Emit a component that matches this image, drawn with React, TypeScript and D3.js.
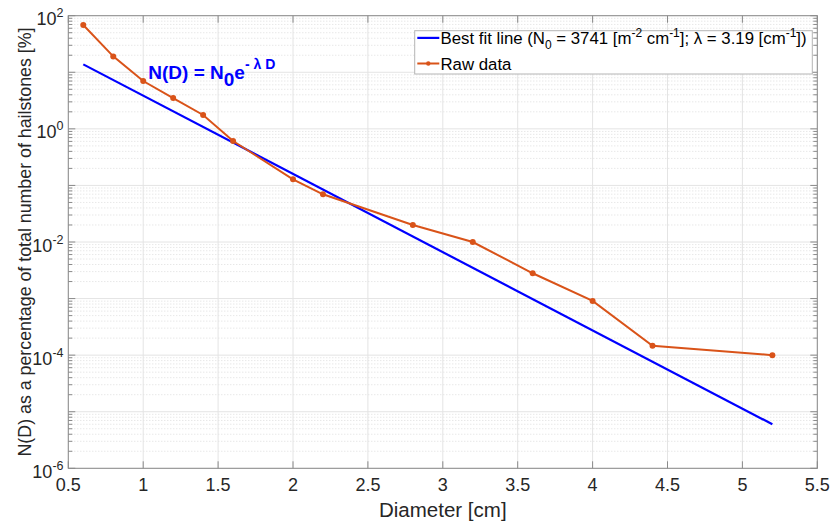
import React from "react";
import * as d3 from "d3";

const diameters = [0.6, 0.8, 1.0, 1.2, 1.4, 1.6, 2.0, 2.2, 2.8, 3.2, 3.6, 4.0, 4.4, 5.2];
const percents = [68.5, 19.1, 7.0, 3.5, 1.76, 0.61, 0.128, 0.0697, 0.02, 0.01, 0.0028, 0.00091, 0.000147, 0.0001];
const fitD = [0.6, 5.2];
const fitN = [13.8, 6.0e-6];
const xTicks = [0.5, 1, 1.5, 2, 2.5, 3, 3.5, 4, 4.5, 5, 5.5];
const yExponents = [2, 0, -2, -4, -6];

const W = 831, H = 525;
const M = { left: 68.3, right: 817.3, top: 15.7, bottom: 468.3 };
const FONT = "'Liberation Sans', Arial, Helvetica, sans-serif";
const BLUE = "#0000ff";
const ORANGE = "#d95319";
const AXIS = "#8a8a8a";
const TXT = "#262626";

export default function App() {
  const x = d3.scaleLinear().domain([0.5, 5.5]).range([M.left, M.right]);
  const y = d3.scaleLog().domain([1e-6, 1e2]).range([M.bottom, M.top]);

  const minorY: number[] = [];
  for (let e = -6; e < 2; e++) {
    for (let k = 2; k <= 9; k++) minorY.push(k * Math.pow(10, e));
  }
  const majorY: number[] = [];
  for (let e = -6; e <= 2; e++) majorY.push(Math.pow(10, e));

  const line = d3
    .line<[number, number]>()
    .x((d) => x(d[0]))
    .y((d) => y(d[1]));
  const raw: [number, number][] = diameters.map((d, i) => [d, percents[i]]);
  const fit: [number, number][] = fitD.map((d, i) => [d, fitN[i]]);

  return (
    <svg
      width={W}
      height={H}
      style={{ position: "absolute", left: 0, top: 0, background: "#fff" }}
      fontFamily={FONT}
    >
      <rect x={0} y={0} width={W} height={H} fill="#fff" />
      {minorY.map((v, i) => (
        <line key={"mg" + i} x1={M.left} x2={M.right} y1={y(v)} y2={y(v)} stroke="#d0d0d0" strokeWidth={0.7} strokeDasharray="1,2" />
      ))}
      {majorY.map((v, i) => (
        <line key={"gy" + i} x1={M.left} x2={M.right} y1={y(v)} y2={y(v)} stroke="#e4e4e4" strokeWidth={1} />
      ))}
      {xTicks.map((v, i) => (
        <line key={"gx" + i} x1={x(v)} x2={x(v)} y1={M.top} y2={M.bottom} stroke="#e4e4e4" strokeWidth={1} />
      ))}

      <path d={line(fit) || ""} fill="none" stroke={BLUE} strokeWidth={2.2} />
      <path d={line(raw) || ""} fill="none" stroke={ORANGE} strokeWidth={2} />
      {raw.map((d, i) => (
        <circle key={"p" + i} cx={x(d[0])} cy={y(d[1])} r={3} fill={ORANGE} />
      ))}

      <rect x={M.left} y={M.top} width={M.right - M.left} height={M.bottom - M.top} fill="none" stroke={AXIS} strokeWidth={1} />
      {xTicks.map((v, i) => (
        <g key={"xt" + i}>
          <line x1={x(v)} x2={x(v)} y1={M.bottom} y2={M.bottom - 7} stroke={AXIS} />
          <line x1={x(v)} x2={x(v)} y1={M.top} y2={M.top + 7} stroke={AXIS} />
          <text x={x(v)} y={490.7} textAnchor="middle" fontSize={18} fill={TXT}>
            {String(v)}
          </text>
        </g>
      ))}
      {majorY.map((v, i) => (
        <g key={"yt" + i}>
          <line x1={M.left} x2={M.left + 7} y1={y(v)} y2={y(v)} stroke={AXIS} />
          <line x1={M.right} x2={M.right - 7} y1={y(v)} y2={y(v)} stroke={AXIS} />
        </g>
      ))}
      {minorY.map((v, i) => (
        <g key={"ymt" + i}>
          <line x1={M.left} x2={M.left + 4} y1={y(v)} y2={y(v)} stroke={AXIS} />
          <line x1={M.right} x2={M.right - 4} y1={y(v)} y2={y(v)} stroke={AXIS} />
        </g>
      ))}
      {yExponents.map((e) => (
        <text key={"yl" + e} x={63.5} y={y(Math.pow(10, e)) + 9.5} textAnchor="end" fontSize={18} fill={TXT}>
          10
          <tspan fontSize={12.5} dy={-8}>
            {String(e)}
          </tspan>
        </text>
      ))}

      <text x={(M.left + M.right) / 2} y={516.7} textAnchor="middle" fontSize={20.5} fill={TXT}>
        Diameter [cm]
      </text>
      <text
        transform={`translate(31,${(M.top + M.bottom) / 2}) rotate(-90)`}
        textAnchor="middle"
        fontSize={17.8}
        fill={TXT}
      >
        N(D) as a percentage of total number of hailstones [%]
      </text>

      <text x={148.3} y={79} fontSize={19} fontWeight="bold" fill={BLUE}>
        N(D) = N
        <tspan dy={7}>0</tspan>
        <tspan dy={-7}>e</tspan>
        <tspan fontSize={14} dy={-10}>- λ D</tspan>
      </text>

      <rect x={414.7} y={30.7} width={812.3 - 414.7} height={74 - 30.7} fill="#fff" stroke="#b5b5b5" strokeWidth={1} />
      <line x1={417.3} x2={439.3} y1={37.9} y2={37.9} stroke={BLUE} strokeWidth={2.2} />
      <line x1={417.3} x2={439.3} y1={63.5} y2={63.5} stroke={ORANGE} strokeWidth={2} />
      <circle cx={428.3} cy={63.5} r={2.2} fill={ORANGE} />
      <text x={440.5} y={43.6} fontSize={16.8} fill="#000">
        Best fit line (N
        <tspan fontSize={12} dy={5}>0</tspan>
        <tspan dy={-5}> = 3741 [m</tspan>
        <tspan fontSize={12} dy={-6.5}>-2</tspan>
        <tspan dy={6.5}> cm</tspan>
        <tspan fontSize={12} dy={-6.5}>-1</tspan>
        <tspan dy={6.5}>]; λ = 3.19 [cm</tspan>
        <tspan fontSize={12} dy={-6.5}>-1</tspan>
        <tspan dy={6.5}>])</tspan>
      </text>
      <text x={440.5} y={69.8} fontSize={16.8} fill="#000">
        Raw data
      </text>
    </svg>
  );
}
